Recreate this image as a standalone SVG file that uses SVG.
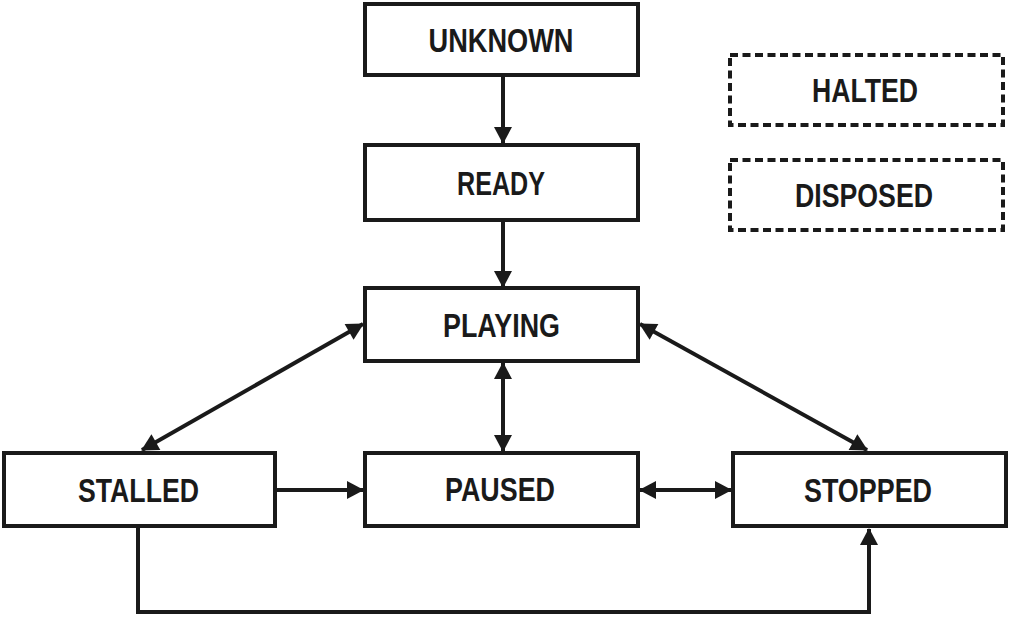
<svg xmlns="http://www.w3.org/2000/svg" width="1013" height="617" viewBox="0 0 1013 617">
<defs>
<style>
.box{fill:#fff;stroke:#1a1a1a;stroke-width:4}
.dash{fill:#fff;stroke:#1a1a1a;stroke-width:4;stroke-dasharray:8 4.5}
.lbl{font-family:"Liberation Sans",Arial,sans-serif;font-weight:bold;font-size:34px;fill:#1a1a1a;text-anchor:middle}
.con{fill:none;stroke:#1a1a1a;stroke-width:4}
</style>
<marker id="ah" markerUnits="userSpaceOnUse" markerWidth="18" markerHeight="18" viewBox="0 0 17 18" refX="16" refY="9" orient="auto-start-reverse">
<path d="M0,0 L17,9 L0,18 z" fill="#1a1a1a"/>
</marker>
</defs>
<rect width="1013" height="617" fill="#fff"/>
<g id="connectors">
<path class="con" d="M503,77 L503,143" marker-end="url(#ah)"/>
<path class="con" d="M503,222 L503,287" marker-end="url(#ah)"/>
<path class="con" d="M503,363 L503,451" marker-start="url(#ah)" marker-end="url(#ah)"/>
<path class="con" d="M142,450 L363,324" marker-start="url(#ah)" marker-end="url(#ah)"/>
<path class="con" d="M640,324 L867,450" marker-start="url(#ah)" marker-end="url(#ah)"/>
<path class="con" d="M277,490 L363,490" marker-end="url(#ah)"/>
<path class="con" d="M640,490 L731,490" marker-start="url(#ah)" marker-end="url(#ah)"/>
<path class="con" d="M138,528 L138,612 L869,612 L869,529" marker-end="url(#ah)"/>
</g>
<g id="unknown"><rect class="box" x="365" y="4" width="273" height="71"/><text class="lbl" x="501" y="52" textLength="145" lengthAdjust="spacingAndGlyphs">UNKNOWN</text></g>
<g id="ready"><rect class="box" x="365" y="145" width="273" height="75"/><text class="lbl" x="501" y="195" textLength="88" lengthAdjust="spacingAndGlyphs">READY</text></g>
<g id="playing"><rect class="box" x="365" y="288" width="273" height="73"/><text class="lbl" x="501.5" y="337" textLength="117" lengthAdjust="spacingAndGlyphs">PLAYING</text></g>
<g id="stalled"><rect class="box" x="4" y="453" width="271" height="73"/><text class="lbl" x="138.5" y="502" textLength="121" lengthAdjust="spacingAndGlyphs">STALLED</text></g>
<g id="paused"><rect class="box" x="365" y="453" width="273" height="73"/><text class="lbl" x="500" y="501" textLength="110" lengthAdjust="spacingAndGlyphs">PAUSED</text></g>
<g id="stopped"><rect class="box" x="733" y="453" width="273" height="73"/><text class="lbl" x="868" y="502" textLength="128" lengthAdjust="spacingAndGlyphs">STOPPED</text></g>
<g id="halted"><rect class="dash" x="730" y="55" width="273" height="70"/><text class="lbl" x="865" y="102" textLength="106" lengthAdjust="spacingAndGlyphs">HALTED</text></g>
<g id="disposed"><rect class="dash" x="730" y="160" width="273" height="70"/><text class="lbl" x="864" y="207" textLength="138" lengthAdjust="spacingAndGlyphs">DISPOSED</text></g>
</svg>
